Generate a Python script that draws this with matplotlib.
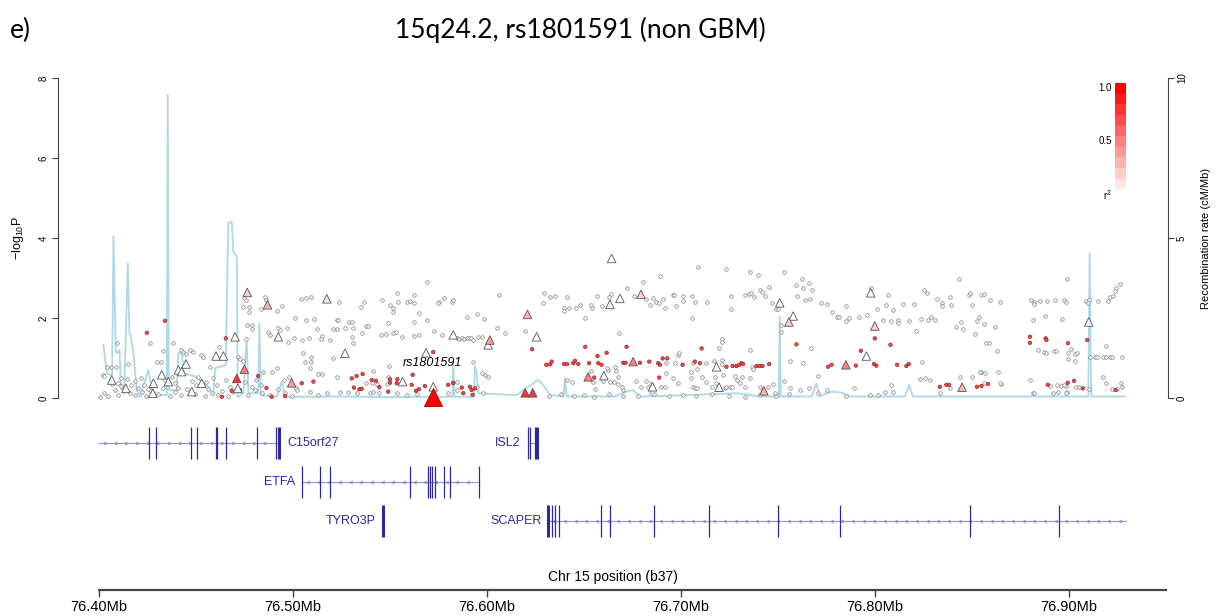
import numpy as np
import matplotlib
matplotlib.use("Agg")
import matplotlib.pyplot as plt
from matplotlib.path import Path

# ---- association data (position in Mb, -log10 P) ----
gray_pos = [
    76.404, 76.406, 76.409, 76.4086, 76.415, 76.438, 76.4328, 76.4297, 76.4318, 76.4423, 76.4433, 76.4448,
    76.4469, 76.4485, 76.4526, 76.4538, 76.4572, 76.4619, 76.4756, 76.4716, 76.4727, 76.4742, 76.4749, 76.4756,
    76.4744, 76.4773, 76.4773, 76.4856, 76.4859, 76.4833, 76.4916, 76.4942, 76.4761, 76.4787, 76.4787, 76.4873,
    76.4881, 76.4921, 76.4933, 76.4968, 76.4973, 76.5005, 76.501, 76.5041, 76.5067, 76.5093, 76.489, 76.4916,
    76.4263, 76.4022,
    76.4005, 76.4026, 76.4046, 76.4082, 76.4098, 76.4113, 76.4134, 76.416, 76.4186, 76.4201, 76.4222, 76.4242,
    76.4263, 76.4304, 76.433, 76.4366, 76.4392, 76.4423, 76.4454, 76.4495, 76.4546, 76.4562, 76.4582, 76.4613,
    76.4634, 76.4665, 76.4691, 76.4768, 76.4804, 76.484, 76.4881, 76.4923, 76.4959, 76.4995,
    76.4026, 76.4067, 76.4098, 76.4113, 76.4144, 76.4165, 76.4186, 76.4216, 76.4232, 76.4253, 76.434, 76.4376,
    76.4392, 76.4407, 76.4479, 76.45, 76.451, 76.4552, 76.4588, 76.4608, 76.4655, 76.4675, 76.4753, 76.4789,
    76.4809, 76.4835, 76.4845, 76.4954, 76.4979, 76.5015,
    76.5692, 76.5239, 76.5366, 76.5349, 76.546, 76.55, 76.5538, 76.5543, 76.5589, 76.5603, 76.5624, 76.5624,
    76.5514, 76.5517, 76.5651, 76.5753, 76.5778, 76.5818, 76.5826, 76.5749, 76.6295, 76.6325, 76.6351, 76.629,
    76.5065, 76.5108, 76.5225, 76.5234, 76.5289, 76.5306, 76.5376, 76.5388, 76.5488, 76.5625, 76.5689, 76.5125,
    76.5208, 76.5225, 76.5268, 76.5311, 76.5354, 76.5452, 76.5479, 76.5517, 76.5531, 76.556, 76.5624, 76.5649,
    76.5727, 76.5766, 76.5844, 76.5858, 76.587, 76.5882, 76.5896, 76.5907, 76.592, 76.593, 76.5955, 76.5973,
    76.5045, 76.5082, 76.5148, 76.5143, 76.5191, 76.5306, 76.5311, 76.505, 76.5091, 76.5091, 76.5088, 76.5062,
    76.5208, 76.513, 76.5151, 76.5414, 76.5495, 76.5019,
    76.5225, 76.5376, 76.5406, 76.5431, 76.5488, 76.5483, 76.5397, 76.5414, 76.5826, 76.5844, 76.5973, 76.599,
    76.6007, 76.5088, 76.513, 76.5174, 76.5242, 76.5285, 76.5328, 76.5445, 76.5535, 76.5586, 76.5638, 76.58,
    76.5844, 76.5947, 76.5981,
    76.6064, 76.605, 76.6093, 76.6196, 76.5986, 76.5895, 76.5947, 76.593,
    76.7086, 76.7232, 76.7359, 76.7398, 76.7533, 76.6892, 76.6806, 76.672, 76.6638, 76.663, 76.6565, 76.6411,
    76.6399, 76.6399, 76.6424, 76.6459, 76.6479, 76.6536, 76.654, 76.6594, 76.6505, 76.6758, 76.682, 76.684,
    76.6854, 76.6871, 76.6888, 76.6909, 76.6918, 76.6957, 76.6964, 76.6974, 76.7009, 76.7009, 76.7055, 76.7072,
    76.7136, 76.7055, 76.7261, 76.7261, 76.733, 76.7352, 76.7364, 76.7376, 76.7407, 76.7416, 76.7433, 76.7455,
    76.7471, 76.7493, 76.7502, 76.7514, 76.7514,
    76.6679, 76.721, 76.7213, 76.7356, 76.7197, 76.6986, 76.666, 76.6923, 76.6969, 76.6991, 76.7063, 76.7084,
    76.7132, 76.717, 76.721, 76.721, 76.7369, 76.7373, 76.6625, 76.6617, 76.6665,
    76.6535, 76.6548, 76.6557, 76.6596, 76.6634, 76.6656, 76.6411, 76.6437, 76.6677, 76.6677, 76.6694, 76.6699,
    76.6768, 76.6794, 76.682, 76.6831, 76.69, 76.6918, 76.6923, 76.696, 76.6986, 76.7052, 76.7052, 76.706,
    76.7072, 76.7084, 76.7107, 76.7132, 76.7158, 76.7175, 76.718, 76.7227, 76.7235, 76.7253, 76.7264, 76.7218,
    76.7278, 76.7292, 76.7313, 76.7304, 76.733, 76.7359, 76.7407, 76.7424, 76.745, 76.7476, 76.7485,
    76.632, 76.638, 76.645, 76.650, 76.655, 76.663, 76.670, 76.678, 76.686, 76.694, 76.701, 76.708,
    76.716, 76.725, 76.733, 76.741, 76.749, 76.756,
    76.7627, 76.7661, 76.7596, 76.7631, 76.7677, 76.7599, 76.7639, 76.7668, 76.7725, 76.7751, 76.778, 76.7803,
    76.7814, 76.7851, 76.7866, 76.7854, 76.7918, 76.796, 76.7979, 76.8012, 76.806, 76.8069, 76.8094, 76.8043,
    76.8081, 76.812, 76.812, 76.8146, 76.8175, 76.8201, 76.8211, 76.8237, 76.8253, 76.827, 76.8275, 76.8292,
    76.8309, 76.8321, 76.8344, 76.8349, 76.8387, 76.8395, 76.8435, 76.8421, 76.8447, 76.8455, 76.8486, 76.8493,
    76.8502, 76.8515, 76.8527, 76.8538, 76.855, 76.8562, 76.8563, 76.8576, 76.8589, 76.8596, 76.8622, 76.8632,
    76.8648, 76.8804, 76.882, 76.8851, 76.8888, 76.8928, 76.8974, 76.8988, 76.8821, 76.8876, 76.8965, 76.8991,
    76.8816, 76.9091, 76.9105, 76.9151, 76.9203, 76.9211, 76.9228, 76.9242, 76.9237, 76.9263, 76.91,
    76.767, 76.7562, 76.763, 76.8241, 76.8258, 76.8284, 76.855, 76.8567, 76.8636, 76.8842, 76.8871, 76.8881,
    76.8923, 76.8937, 76.9014, 76.8997, 76.9031, 76.9045, 76.8997, 76.9031,
    76.9108, 76.9134, 76.9146, 76.9177, 76.9194, 76.9215, 76.9223, 76.9277, 76.919,
    76.88, 76.8653, 76.8902, 76.894, 76.8962, 76.8985, 76.8991, 76.9039, 76.9053, 76.9105, 76.9177, 76.9194,
    76.9225, 76.9251, 76.9272, 76.9277, 76.8816, 76.8945, 76.8985,
    76.7562, 76.7613, 76.7661, 76.7708, 76.7751, 76.7854, 76.7892, 76.7974, 76.8017, 76.8052, 76.8094, 76.8086,
    76.8232, 76.8335, 76.839, 76.8438, 76.8502, 76.8541, 76.8562, 76.8644, 76.882, 76.8919, 76.8974, 76.7531,
    76.7708,
]
gray_logp = [
    0.77, 0.77, 1.37, 0.78, 0.84, 1.37, 1.18, 0.91, 0.89, 1.20, 1.14, 1.10,
    1.19, 1.15, 1.08, 1.03, 0.78, 1.27, 1.47, 1.03, 0.98, 0.93, 2.49, 2.45,
    2.28, 2.28, 2.16, 2.53, 2.45, 2.23, 2.18, 2.30, 1.83, 1.73, 1.83, 1.66,
    1.58, 1.74, 1.70, 1.74, 1.41, 1.49, 1.99, 2.48, 2.49, 2.52, 0.66, 0.74,
    1.37, 0.58,
    0.03, 0.13, 0.05, 0.20, 0.08, 0.30, 0.20, 0.13, 0.08, 0.25, 0.15, 0.05,
    0.20, 0.10, 0.25, 0.05, 0.15, 0.08, 0.23, 0.10, 0.05, 0.23, 0.13, 0.08,
    0.18, 0.05, 0.15, 0.08, 0.20, 0.13, 0.08, 0.23, 0.13, 0.05,
    0.55, 0.35, 0.38, 0.50, 0.48, 0.33, 0.43, 0.50, 0.33, 0.23, 0.45, 0.53,
    0.38, 0.25, 0.43, 0.33, 0.53, 0.40, 0.50, 0.33, 0.45, 0.28, 0.40, 0.28,
    0.45, 0.33, 0.65, 0.45, 0.53, 0.25,
    2.91, 2.41, 2.41, 2.28, 2.45, 2.33, 2.62, 2.41, 2.41, 2.43, 2.57, 2.37,
    2.24, 2.16, 2.13, 2.41, 2.49, 2.41, 2.45, 2.38, 2.63, 2.52, 2.55, 2.38,
    1.95, 1.97, 1.95, 1.95, 1.91, 1.91, 1.81, 1.81, 1.87, 1.91, 1.95, 1.72,
    1.72, 1.72, 1.74, 1.74, 1.62, 1.57, 1.60, 1.63, 1.64, 1.52, 1.55, 1.57,
    1.67, 1.58, 1.49, 1.47, 1.50, 1.48, 1.51, 1.49, 1.50, 1.45, 1.52, 1.53,
    1.45, 1.49, 1.55, 1.47, 1.45, 1.53, 1.37, 1.13, 1.03, 0.89, 0.74, 0.91,
    0.99, 0.60, 0.59, 0.68, 0.80, 0.20,
    0.53, 0.38, 0.38, 0.34, 0.53, 0.35, 0.12, 0.14, 0.41, 0.41, 0.62, 0.58,
    0.53, 0.16, 0.08, 0.12, 0.14, 0.16, 0.12, 0.12, 0.12, 0.08, 0.09, 0.12,
    0.20, 0.28, 0.12,
    2.58, 1.76, 1.62, 1.68, 1.98, 2.03, 2.09, 0.91,
    3.27, 3.22, 3.14, 3.08, 3.14, 3.05, 2.91, 2.74, 2.59, 2.53, 2.55, 2.53,
    2.24, 2.18, 2.26, 2.26, 2.33, 2.33, 2.24, 2.30, 1.99, 2.55, 2.47, 2.33,
    2.49, 2.41, 2.37, 2.47, 2.24, 2.58, 2.58, 2.30, 2.55, 2.43, 2.55, 2.41,
    2.41, 1.99, 2.55, 2.22, 2.58, 2.60, 2.62, 2.52, 2.70, 2.66, 2.55, 2.78,
    2.38, 2.22, 2.22, 1.83, 1.66,
    1.63, 1.47, 1.41, 1.20, 1.24, 1.08, 0.78, 0.88, 0.87, 1.12, 0.87, 0.72,
    0.88, 0.93, 0.95, 0.85, 0.78, 0.73, 0.70, 0.74, 0.68,
    0.68, 0.41, 0.22, 0.43, 0.41, 0.41, 0.45, 0.41, 0.52, 0.35, 0.28, 0.20,
    0.43, 0.28, 0.43, 0.28, 0.28, 0.28, 0.62, 0.49, 0.37, 0.49, 0.66, 0.28,
    0.26, 0.26, 0.53, 0.41, 0.28, 0.53, 0.37, 0.26, 0.28, 0.28, 0.27, 0.58,
    0.55, 0.45, 0.53, 0.37, 0.28, 0.49, 0.28, 0.20, 0.28, 0.35, 0.12,
    0.05, 0.10, 0.04, 0.08, 0.03, 0.10, 0.06, 0.04, 0.09, 0.05, 0.07, 0.04,
    0.10, 0.05, 0.03, 0.08, 0.05, 0.10,
    2.97, 2.88, 2.83, 2.74, 2.70, 2.55, 2.45, 2.47, 2.37, 2.34, 2.16, 2.03,
    2.03, 1.93, 1.99, 2.31, 2.03, 2.08, 2.74, 2.22, 2.33, 2.58, 2.20, 1.95,
    1.93, 1.95, 1.87, 2.35, 1.93, 2.34, 1.68, 1.98, 2.70, 2.63, 1.95, 2.03,
    1.95, 2.47, 2.37, 2.30, 2.53, 2.33, 2.97, 1.77, 1.91, 1.72, 2.58, 2.62,
    2.33, 1.59, 1.93, 2.03, 2.58, 2.59, 1.85, 1.38, 1.37, 2.45, 1.78, 1.18,
    2.41, 2.45, 2.41, 2.43, 2.43, 2.45, 2.45, 2.41, 2.35, 2.06, 1.98, 2.97,
    1.95, 2.43, 2.45, 2.43, 2.43, 2.52, 2.55, 2.74, 2.68, 2.84, 2.37,
    1.24, 0.93, 0.87, 0.91, 0.49, 0.45, 0.66, 0.62, 0.66, 1.20, 1.16, 1.12,
    1.18, 1.18, 1.22, 1.12, 1.10, 1.13, 0.98, 0.93,
    1.02, 1.02, 1.02, 1.02, 1.02, 1.02, 1.02, 1.02, 1.30,
    0.45, 0.35, 0.31, 0.33, 0.31, 0.31, 0.16, 0.28, 0.28, 0.22, 0.53, 0.38,
    0.23, 0.22, 0.37, 0.28, 0.12, 0.16, 0.12,
    0.24, 0.20, 0.24, 0.12, 0.20, 0.05, 0.24, 0.08, 0.08, 0.16, 0.16, 0.33,
    0.47, 0.12, 0.24, 0.53, 0.53, 0.64, 0.37, 0.37, 0.12, 0.12, 0.33, 0.43,
    0.55,
]

red_pos = [
    76.4246, 76.434, 76.4653, 76.482, 76.4863, 76.5045, 76.4634, 76.489, 76.4959, 76.4684, 76.4727, 76.5105,
    76.5491,
    76.5303, 76.5328, 76.5359, 76.5406, 76.5428, 76.5314, 76.5342, 76.5354, 76.5445, 76.55, 76.55, 76.5535,
    76.5538, 76.5617, 76.5612, 76.5634, 76.5649, 76.568, 76.58, 76.5826, 76.587, 76.5878, 76.5912, 76.5921,
    76.5926, 76.5938, 76.5723, 76.6233,
    76.6507, 76.672, 76.7107, 76.657, 76.6397, 76.6414, 76.6445, 76.6471, 76.6454, 76.6527, 76.6574, 76.6591,
    76.6703, 76.6715, 76.6789, 76.6837, 76.6883, 76.6892, 76.6906, 76.693, 76.7009, 76.7098, 76.7235, 76.7267,
    76.7287, 76.7301, 76.7313, 76.7321, 76.739, 76.7407, 76.7421, 76.7455, 76.6553, 76.6888, 76.6306, 76.6325,
    76.6334, 76.6617, 76.7072,
    76.80, 76.7928, 76.8081, 76.8115, 76.8163, 76.8175, 76.8008, 76.7996, 76.7902, 76.7777, 76.7759, 76.7596,
    76.88, 76.88, 76.8881, 76.8885, 76.8996, 76.9096, 76.8335, 76.8369, 76.8383, 76.8527, 76.855, 76.8584,
    76.8995, 76.8892, 76.9027, 76.9242, 76.9073,
]
red_logp = [
    1.63, 1.93, 1.49, 0.55, 0.25, 0.37, 0.03, 0.03, 0.05, 0.18, 0.20, 0.41,
    0.16,
    0.49, 0.55, 0.60, 0.45, 0.43, 0.26, 0.22, 0.23, 0.27, 0.47, 0.38, 0.37,
    0.47, 0.58, 0.33, 0.18, 0.22, 0.30, 0.33, 0.37, 0.26, 0.12, 0.28, 0.20,
    0.08, 0.24, 1.15, 1.22,
    1.28, 1.28, 1.24, 1.05, 0.85, 0.85, 0.87, 0.85, 0.93, 0.87, 0.87, 0.83,
    0.88, 0.88, 0.88, 0.91, 0.87, 0.83, 0.99, 0.99, 0.83, 0.87, 0.78, 0.80,
    0.80, 0.83, 0.87, 0.85, 0.80, 0.80, 0.80, 0.85, 0.51, 0.51, 0.83, 0.84,
    0.91, 1.13, 0.91,
    1.49, 1.18, 1.33, 0.83, 0.80, 0.85, 0.81, 0.85, 0.81, 0.83, 0.78, 1.34,
    1.53, 1.38, 1.49, 1.45, 1.37, 1.45, 0.28, 0.33, 0.33, 0.28, 0.30, 0.35,
    0.38, 0.33, 0.43, 0.20, 0.24,
]
red_r2 = 0.75

tri_pos = [
    76.4065, 76.4138, 76.4280, 76.4277, 76.4323, 76.4357, 76.4409, 76.4426, 76.4448, 76.4478, 76.4529, 76.4603,
    76.4641, 76.4701, 76.4710, 76.4749, 76.4715, 76.4764, 76.4868, 76.4924, 76.4993, 76.5174, 76.5268, 76.5565,
    76.5686, 76.5723, 76.5826, 76.6006, 76.6015, 76.6209, 76.6256, 76.6197, 76.6236, 76.6522, 76.6603, 76.6643,
    76.6634, 76.6686, 76.6794, 76.6754, 76.6854, 76.7184, 76.7197, 76.7428, 76.7510, 76.7579, 76.7557, 76.7851,
    76.7957, 76.7979, 76.8000, 76.8450, 76.9103,
]
tri_logp = [
    0.45, 0.24, 0.37, 0.12, 0.58, 0.41, 0.70, 0.66, 0.85, 0.16, 0.37, 1.05,
    1.05, 1.53, 0.49, 0.72, 0.24, 2.64, 2.33, 1.53, 0.38, 2.48, 1.12, 0.41,
    1.13, 0.28, 1.58, 1.33, 1.45, 2.09, 1.53, 0.13, 0.13, 0.53, 0.56, 3.49,
    2.34, 2.49, 2.59, 0.91, 0.28, 0.78, 0.27, 0.18, 2.38, 2.05, 1.90, 0.83,
    1.05, 2.63, 1.80, 0.27, 1.90,
]
tri_r2 = [
    0, 0, 0, 0, 0, 0, 0, 0, 0, 0, 0, 0,
    0, 0, 0.8, 0.5, 0, 0.2, 0.3, 0, 0.4, 0.1, 0, 0,
    0, 0, 0, 0, 0.4, 0.3, 0, 0.8, 0.8, 0.5, 0, 0,
    0, 0, 0.2, 0.5, 0, 0, 0, 0.3, 0, 0, 0.2, 0.5,
    0, 0, 0.2, 0.3, 0,
]

lead_snp = "rs1801591"
lead_pos = 76.5720
lead_logp = 0.03

# ---- recombination rate (cM/Mb) ----
recomb_pos = [
    76.4022, 76.404, 76.4057, 76.4067, 76.4074, 76.4086, 76.4094, 76.4105, 76.4113, 76.4129, 76.4148, 76.4156,
    76.4163, 76.4177, 76.4194, 76.4211, 76.4254, 76.4272, 76.4297, 76.4349, 76.4354, 76.4359, 76.4401, 76.4409,
    76.4428, 76.4435, 76.4469, 76.4495, 76.4529, 76.4563, 76.4589, 76.4598, 76.4653, 76.4666, 76.4684, 76.4692,
    76.471, 76.4715, 76.4744, 76.4761, 76.477, 76.4821, 76.4826, 76.4834, 76.4916, 76.4942, 76.4959, 76.5036,
    76.5242, 76.5448, 76.5809, 76.5822, 76.5826, 76.5832, 76.5933, 76.5938, 76.5947, 76.5955, 76.6153, 76.6239,
    76.6264, 76.629, 76.6325, 76.6394, 76.6402, 76.641, 76.666, 76.672, 76.6754, 76.6789, 76.684, 76.6844,
    76.6848, 76.7287, 76.7407, 76.7505, 76.751, 76.7515, 76.7675, 76.7699, 76.7716, 76.7777, 76.7828, 76.7871,
    76.8155, 76.8177, 76.8196, 76.9101, 76.9108, 76.9116, 76.9289,
]
recomb_rate = [
    1.66, 0.77, 0.72, 0.72, 5.06, 1.45, 1.40, 1.50, 0.30, 0.15, 4.21, 2.02,
    1.97, 1.40, 0.25, 0.04, 0.88, 0.30, 0.09, 0.09, 9.47, 0.25, 0.25, 1.40,
    1.40, 0.77, 0.72, 0.67, 0.51, 0.35, 0.09, 0.93, 1.03, 5.46, 5.51, 4.57,
    4.42, 0.04, 0.15, 1.81, 0.15, 0.15, 2.33, 0.09, 0.04, 0.51, 0.04, 0.04,
    0.05, 0.03, 0.04, 0.04, 1.08, 0.04, 0.04, 0.98, 0.77, 0.15, 0.09, 0.46,
    0.56, 0.41, 0.09, 0.05, 0.62, 0.05, 0.05, 0.20, 0.25, 0.05, 0.05, 0.51,
    0.05, 0.15, 0.05, 0.05, 2.54, 0.05, 0.05, 0.46, 0.05, 0.20, 0.17, 0.05,
    0.05, 0.41, 0.05, 0.05, 4.52, 0.05, 0.05,
]

# ---- genes: name, start, end, strand, row, exons (Mb), thick exons ----
gene_names = ["C15orf27", "ISL2", "ETFA", "TYRO3P", "SCAPER"]
gene_start = [76.400, 76.6210, 76.5048, 76.5462, 76.6317]
gene_end = [76.4929, 76.6256, 76.5960, 76.5470, 76.9295]
gene_strand = ["+", "+", "-", "+", "-"]
gene_row = [0, 0, 1, 2, 2]
gene_label_side = ["right", "left", "left", "left", "left"]
gene_exons = [
    [76.4258, 76.4294, 76.4474, 76.4504, 76.4602, 76.4608, 76.4655, 76.4813, 76.4912],
    [76.6210, 76.6222, 76.6247],
    [76.5048, 76.5139, 76.5191, 76.5603, 76.5697, 76.5706, 76.5715, 76.5732, 76.5780, 76.5809, 76.5960],
    [],
    [76.6333, 76.6351, 76.6372, 76.6587, 76.6634, 76.6861, 76.7144, 76.7500, 76.7822, 76.8493, 76.8949],
]
gene_thick = [[76.4929], [76.6256], [], [76.5466], [76.6317]]

xticks_mb = [76.40, 76.50, 76.60, 76.70, 76.80, 76.90]
x_lo, x_hi = 76.3788, 76.9512

W, H = 1220, 616
plt.rcParams['font.family'] = ['Liberation Sans', 'DejaVu Sans']
plt.rcParams['mathtext.fontset'] = 'custom'
plt.rcParams['mathtext.rm'] = 'Liberation Sans'
plt.rcParams['mathtext.it'] = 'Liberation Sans:italic'

fig = plt.figure(figsize=(W / 100, H / 100), dpi=100)


def px_axes(x0, y0, x1, y1):
    return fig.add_axes([x0 / W, 1 - y1 / H, (x1 - x0) / W, (y1 - y0) / H])


def r2_color(r2):
    return (1.0, 1.0 - r2, 1.0 - r2)


axis_gray = '#444444'

# ---- main association panel ----
ax = px_axes(58, 78, 1168, 398)
ax2 = ax.twinx()
ax.set_zorder(ax2.get_zorder() + 1)
ax.patch.set_visible(False)

ax.set_xlim(x_lo, x_hi)
ax.set_ylim(0, 8)
ax2.set_ylim(0, 10)
for a in (ax, ax2):
    for s in ('top', 'bottom'):
        a.spines[s].set_visible(False)
    a.set_xticks([])
ax.spines['right'].set_visible(False)
ax2.spines['left'].set_visible(False)
ax.spines['left'].set_color(axis_gray)
ax2.spines['right'].set_color(axis_gray)
ax.set_yticks([0, 2, 4, 6, 8])
ax2.set_yticks([0, 5, 10])
for a in (ax, ax2):
    a.tick_params(axis='y', length=4.5, width=0.8, color=axis_gray, labelsize=7, pad=2)
for lab in ax.get_yticklabels() + ax2.get_yticklabels():
    lab.set_rotation(90)
    lab.set_va('center')

ax2.plot(recomb_pos, recomb_rate, color='#add8e6', lw=1.3, zorder=1)
ax.hlines(0, 76.40, 76.93, colors='#7a8a99', linestyles=(0, (1, 2.2)), lw=0.9, zorder=2)

ax.scatter(gray_pos, gray_logp, s=6.5, facecolors='white', edgecolors='#707070',
           linewidths=0.45, zorder=3, clip_on=False)
ax.scatter(red_pos, red_logp, s=6.5, facecolors=[r2_color(red_r2)] * len(red_pos),
           edgecolors='#7a2a2a', linewidths=0.45, zorder=4, clip_on=False)
ax.scatter(tri_pos, tri_logp, s=38, marker='^', facecolors=[r2_color(v) for v in tri_r2],
           edgecolors='#555555', linewidths=0.6, zorder=5, clip_on=False)
ax.scatter([lead_pos], [lead_logp], s=170, marker='^', facecolors=[r2_color(1.0)],
           edgecolors='#b00000', linewidths=0.6, zorder=6, clip_on=False)
ax.text(lead_pos, 0.88, lead_snp, style='italic', fontsize=9, ha='center', va='center')

ax.text(-0.036, 0.5, r'$\mathrm{-log_{10}P}$', transform=ax.transAxes, rotation=90,
        ha='center', va='center', fontsize=9)
ax2.text(1.034, 0.5, 'Recombination rate (cM/Mb)', transform=ax2.transAxes, rotation=90,
         ha='center', va='center', fontsize=8)

# ---- r^2 legend ----
lax = px_axes(1115, 83, 1126, 200)
levels = np.linspace(1.0, 0.0, 11)
lax.imshow(np.array([[r2_color(v)] for v in levels]), aspect='auto', interpolation='nearest')
lax.axis('off')
fig.text(1112 / W, 1 - 88 / H, '1.0', ha='right', va='center', fontsize=7)
fig.text(1112 / W, 1 - 141 / H, '0.5', ha='right', va='center', fontsize=7)
fig.text(1112 / W, 1 - 195 / H, r'r$^2$', ha='right', va='center', fontsize=7)

# ---- gene panel ----
gax = px_axes(58, 412, 1168, 552)
gax.set_xlim(x_lo, x_hi)
gax.set_ylim(2.795, -0.795)
gax.axis('off')
gene_col = '#2a2a9c'
chev_r = Path([(-1, 1), (1, 0), (-1, -1)], [Path.MOVETO, Path.LINETO, Path.LINETO])
chev_l = Path([(1, 1), (-1, 0), (1, -1)], [Path.MOVETO, Path.LINETO, Path.LINETO])
for name, st, en, strand, row, side, exons, thick in zip(gene_names, gene_start, gene_end, gene_strand,
                                                     gene_row, gene_label_side, gene_exons, gene_thick):
    gax.plot([st, en], [row, row], color='#9a9ad8', lw=0.9, zorder=1)
    if en - st > 0.01:
        arr = np.arange(st + 0.003, en - 0.002, 0.0055)
        gax.plot(arr, [row] * len(arr), ls='none', marker=chev_r if strand == '+' else chev_l,
                 ms=2.2, mfc='none', mec='#8080c8', mew=0.55, zorder=2)
    gax.vlines(exons, row - 0.41, row + 0.41, colors=gene_col, lw=0.9, zorder=3)
    if thick:
        gax.vlines(thick, row - 0.41, row + 0.41, colors=gene_col, lw=2.2, zorder=3)
    if side == 'right':
        gax.text(en + 0.0040, row, name, ha='left', va='center', fontsize=9, color=gene_col)
    else:
        gax.text(st - 0.0035, row, name, ha='right', va='center', fontsize=9, color=gene_col)

# ---- bottom position axis ----
bax = px_axes(58, 560, 1168, 590)
bax.set_xlim(x_lo, x_hi)
bax.patch.set_visible(False)
for s in ('top', 'left', 'right'):
    bax.spines[s].set_visible(False)
bax.spines['bottom'].set_bounds(76.40, 76.95)
bax.spines['bottom'].set_linewidth(1.6)
bax.spines['bottom'].set_color(axis_gray)
bax.set_yticks([])
bax.set_xticks(xticks_mb)
bax.set_xticklabels([f"{t:.2f}Mb" for t in xticks_mb])
bax.tick_params(axis='x', length=5, width=1, color=axis_gray, labelsize=10.5, pad=2)
fig.text(613 / W, 1 - 577 / H, 'Chr 15 position (b37)', ha='center', va='center', fontsize=10)

# ---- titles ----
fig.text(580 / W, 1 - 30 / H, '15q24.2, rs1801591 (non GBM)', ha='center', va='center',
         fontsize=19, family=['Lato', 'DejaVu Sans'])
fig.text(10 / W, 1 - 30 / H, 'e)', ha='left', va='center', fontsize=19, family=['Lato', 'DejaVu Sans'])

fig.savefig('out.png', dpi=100)
